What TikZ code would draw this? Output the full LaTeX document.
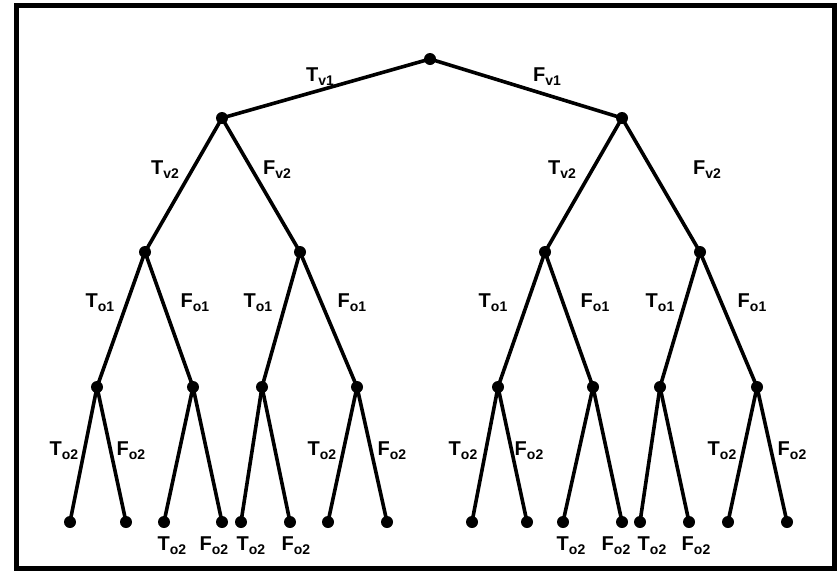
\documentclass[tikz,border=0pt]{standalone}
\usepackage{fontspec}
\setmainfont{Liberation Sans}
\usepackage{tikz}

\newcommand{\blab}[2]{#1\raisebox{-4pt}{\fontsize{14}{14}\selectfont #2}}

\begin{document}
\begin{tikzpicture}[x=1pt,y=-1pt]
        \tikzset{
            dot/.style={circle, fill=black, inner sep=0pt, minimum size=12pt},
            edge/.style={line width=3.6pt},
            lbl/.style={inner sep=0pt, font=\fontsize{20}{22}\selectfont\bfseries}
        }
        \useasboundingbox (0,0) rectangle (840,571);
        \draw[line width=5pt] (16.5,5.5) rectangle (834.5,568.5);

        % Nodes
        \node[dot] (n) at (430, 59) {};
        \node[dot] (n0) at (222, 118) {};
        \node[dot] (n1) at (622, 118) {};
        \node[dot] (n00) at (145, 252) {};
        \node[dot] (n01) at (300, 252) {};
        \node[dot] (n10) at (545, 252) {};
        \node[dot] (n11) at (700, 252) {};
        \node[dot] (n000) at (97, 387) {};
        \node[dot] (n001) at (193, 387) {};
        \node[dot] (n010) at (262, 387) {};
        \node[dot] (n011) at (357, 387) {};
        \node[dot] (n100) at (498, 387) {};
        \node[dot] (n101) at (593, 387) {};
        \node[dot] (n110) at (660, 387) {};
        \node[dot] (n111) at (757, 387) {};
        \node[dot] (n0000) at (70, 522) {};
        \node[dot] (n0001) at (126, 522) {};
        \node[dot] (n0010) at (164, 522) {};
        \node[dot] (n0011) at (222, 522) {};
        \node[dot] (n0100) at (241, 522) {};
        \node[dot] (n0101) at (290, 522) {};
        \node[dot] (n0110) at (328, 522) {};
        \node[dot] (n0111) at (387, 522) {};
        \node[dot] (n1000) at (472, 522) {};
        \node[dot] (n1001) at (527, 522) {};
        \node[dot] (n1010) at (563, 522) {};
        \node[dot] (n1011) at (622, 522) {};
        \node[dot] (n1100) at (640, 522) {};
        \node[dot] (n1101) at (689, 522) {};
        \node[dot] (n1110) at (728, 522) {};
        \node[dot] (n1111) at (787, 522) {};

        % Edges
        \draw[edge] (n.center) -- (n0.center);
        \draw[edge] (n.center) -- (n1.center);
        \foreach \p in {0,1} {
            \draw[edge] (n\p.center) -- (n\p0.center);
            \draw[edge] (n\p.center) -- (n\p1.center);
            \foreach \q in {0,1} {
                \draw[edge] (n\p\q.center) -- (n\p\q0.center);
                \draw[edge] (n\p\q.center) -- (n\p\q1.center);
                \foreach \r in {0,1} {
                    \draw[edge] (n\p\q\r.center) -- (n\p\q\r0.center);
                    \draw[edge] (n\p\q\r.center) -- (n\p\q\r1.center);
                }
            }
        }

        % Labels
        \node[lbl] (tv1) at (320, 77) {\blab{T}{v1}};
        \node[lbl] (fv1) at (547, 77) {\blab{F}{v1}};
        \node[lbl] (tv2a) at (165, 170) {\blab{T}{v2}};
        \node[lbl] (fv2a) at (277, 170) {\blab{F}{v2}};
        \node[lbl] (tv2b) at (562, 170) {\blab{T}{v2}};
        \node[lbl] (fv2b) at (707, 170) {\blab{F}{v2}};
        \node[lbl] (to1a) at (100, 303) {\blab{T}{o1}};
        \node[lbl] (fo1a) at (195, 303) {\blab{F}{o1}};
        \node[lbl] (to1b) at (258, 303) {\blab{T}{o1}};
        \node[lbl] (fo1b) at (352, 303) {\blab{F}{o1}};
        \node[lbl] (to1c) at (493, 303) {\blab{T}{o1}};
        \node[lbl] (fo1c) at (595, 303) {\blab{F}{o1}};
        \node[lbl] (to1d) at (660, 303) {\blab{T}{o1}};
        \node[lbl] (fo1d) at (752, 303) {\blab{F}{o1}};
        \node[lbl] (to2a) at (64, 451) {\blab{T}{o2}};
        \node[lbl] (fo2a) at (131, 451) {\blab{F}{o2}};
        \node[lbl] (to2b) at (172, 546) {\blab{T}{o2}};
        \node[lbl] (fo2b) at (214, 546) {\blab{F}{o2}};
        \node[lbl] (to2c) at (251, 546) {\blab{T}{o2}};
        \node[lbl] (fo2c) at (296, 546) {\blab{F}{o2}};
        \node[lbl] (to2d) at (322, 451) {\blab{T}{o2}};
        \node[lbl] (fo2d) at (392, 451) {\blab{F}{o2}};
        \node[lbl] (to2e) at (463, 451) {\blab{T}{o2}};
        \node[lbl] (fo2e) at (529, 451) {\blab{F}{o2}};
        \node[lbl] (to2f) at (571, 546) {\blab{T}{o2}};
        \node[lbl] (fo2f) at (616, 546) {\blab{F}{o2}};
        \node[lbl] (to2g) at (652, 546) {\blab{T}{o2}};
        \node[lbl] (fo2g) at (696, 546) {\blab{F}{o2}};
        \node[lbl] (to2h) at (722, 451) {\blab{T}{o2}};
        \node[lbl] (fo2h) at (792, 451) {\blab{F}{o2}};
    \end{tikzpicture}
\end{document}
